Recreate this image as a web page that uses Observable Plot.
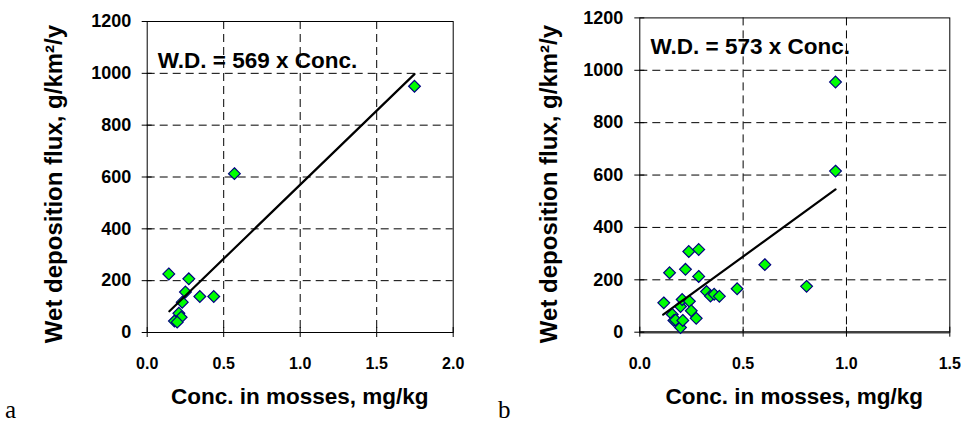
<!DOCTYPE html>
<html><head><meta charset="utf-8">
<script src="https://cdn.jsdelivr.net/npm/d3@7"></script>
<script src="https://cdn.jsdelivr.net/npm/@observablehq/plot@0.6"></script>
<style>
body{margin:0;background:#fff;}
#wrap{position:relative;width:961px;height:423px;overflow:hidden;background:#fff;}
#wrap svg{position:absolute;top:0;}
#wrap svg text{font-weight:bold;}
#wrap svg text.plain{font-weight:normal;}
</style></head><body><div id="wrap"></div>
<script>
// Panel a data
const concA = [0.141, 0.272, 0.25, 0.229, 0.344, 0.435, 0.207, 0.222, 0.178, 0.196, 0.57, 1.747];
const fluxA = [226, 207, 156, 117, 139, 139, 74, 59, 44, 40, 613, 950];
const fitAx = [0.145, 1.747];
const fitAy = [82, 997];
// Panel b data
const concB = [0.116, 0.144, 0.157, 0.165, 0.173, 0.197, 0.197, 0.205, 0.208, 0.221, 0.237, 0.24, 0.249, 0.273, 0.285, 0.285, 0.323, 0.342, 0.36, 0.385, 0.471, 0.605, 0.807, 0.947, 0.947];
const fluxB = [112, 227, 68, 45, 47, 98, 18, 125, 45, 240, 308, 118, 82, 53, 316, 213, 155, 138, 145, 137, 166, 258, 175, 615, 955];
const fitBx = [0.113, 0.947];
const fitBy = [67, 545];
// Ticks and labels
const xTicksA = [0, 0.5, 1, 1.5, 2];
const xTicksB = [0, 0.5, 1, 1.5];
const yTicks = [0, 200, 400, 600, 800, 1000, 1200];
const eqA = "W.D. = 569 x Conc.";
const eqB = "W.D. = 573 x Conc.";
const xTitle = "Conc. in mosses, mg/kg";
const yTitle = "Wet deposition flux, g/km\u00B2/y";
const panelLabels = ["a", "b"];

const FONT = "Arial, 'Liberation Sans', sans-serif";

function panel(o) {
  const pts = o.conc.map((c, i) => ({c, f: o.flux[i]}));
  const fit = o.fitX.map((c, i) => ({c, f: o.fitY[i]}));
  const xMax = o.xTicks[o.xTicks.length - 1];
  return Plot.plot({
    width: o.width, height: 423,
    marginLeft: o.ml, marginRight: o.mr, marginTop: o.mt, marginBottom: o.mb,
    x: {domain: [0, xMax], label: null},
    y: {domain: [0, 1200], label: null},
    style: {fontFamily: FONT, fontWeight: "bold", background: "transparent", overflow: "visible", color: "black"},
    marks: [
      Plot.gridX(o.xTicks.filter(t => t > 0 && t < xMax), {stroke: "black", strokeOpacity: 1, strokeWidth: 1, strokeDasharray: "8,5"}),
      Plot.gridY(yTicks.filter(t => t > 0 && t < 1200), {stroke: "black", strokeOpacity: 1, strokeWidth: 1, strokeDasharray: "8,5"}),
      Plot.frame({stroke: "black", strokeWidth: 1}),
      o.heavyBase ? Plot.ruleY([0], {stroke: "#404040", strokeWidth: 2.5}) : null,
      Plot.axisY({ticks: yTicks, tickSize: 10, dx: 5, tickPadding: o.yPad, fontSize: 18, label: null, tickFormat: d => String(d)}),
      Plot.axisX({ticks: o.xTicks, tickSize: 10, dy: -5, tickPadding: 20, fontSize: 16, label: null, tickFormat: d3.format(".1f")}),
      Plot.dot(pts, {x: "c", y: "f", symbol: "diamond2", r: 5.3, fill: "#00ff00", stroke: "#000080", strokeWidth: 1.2}),
      Plot.line(fit, {x: "c", y: "f", stroke: "black", strokeWidth: 2.2}),
      Plot.text([o.eq], {frameAnchor: "top-left", dx: o.eqDx, dy: o.eqDy, lineAnchor: "bottom", textAnchor: "start", fontSize: 22.5, fill: "black"})
    ]
  });
}

const wrap = document.getElementById("wrap");
const a = panel({conc: concA, flux: fluxA, fitX: fitAx, fitY: fitAy, xTicks: xTicksA, eq: eqA,
  width: 480, ml: 146.7, mr: 27.3, mt: 21, mb: 91, yPad: 11, eqDx: 10.6, eqDy: 46.3, heavyBase: false});
a.style.left = "0px";
const b = panel({conc: concB, flux: fluxB, fitX: fitBx, fitY: fitBy, xTicks: xTicksB, eq: eqB,
  width: 481, ml: 159.3, mr: 11.7, mt: 17.4, mb: 91.3, yPad: 11.6, eqDx: 10.7, eqDy: 36, heavyBase: true});
b.style.left = "480px";
wrap.appendChild(a);
wrap.appendChild(b);

// Titles overlay
const ov = d3.create("svg").attr("width", 961).attr("height", 423).style("left", "0px").style("pointer-events", "none");
const xt = [[299.7, 404], [794.3, 404]];
xt.forEach(([x, y]) => ov.append("text").attr("x", x).attr("y", y).attr("text-anchor", "middle")
  .attr("font-family", FONT).attr("font-size", 22.5).text(xTitle));
const yt = [[62, 184], [557, 184]];
yt.forEach(([x, y]) => ov.append("text").attr("transform", `translate(${x},${y}) rotate(-90)`).attr("text-anchor", "middle")
  .attr("font-family", FONT).attr("font-size", 24).text(yTitle));
const pl = [[5, 418], [498, 418]];
pl.forEach(([x, y], i) => ov.append("text").attr("class", "plain").attr("x", x).attr("y", y)
  .attr("font-family", "'Times New Roman', 'Liberation Serif', serif").attr("font-size", 25).text(panelLabels[i]));
wrap.appendChild(ov.node());
</script></body></html>
